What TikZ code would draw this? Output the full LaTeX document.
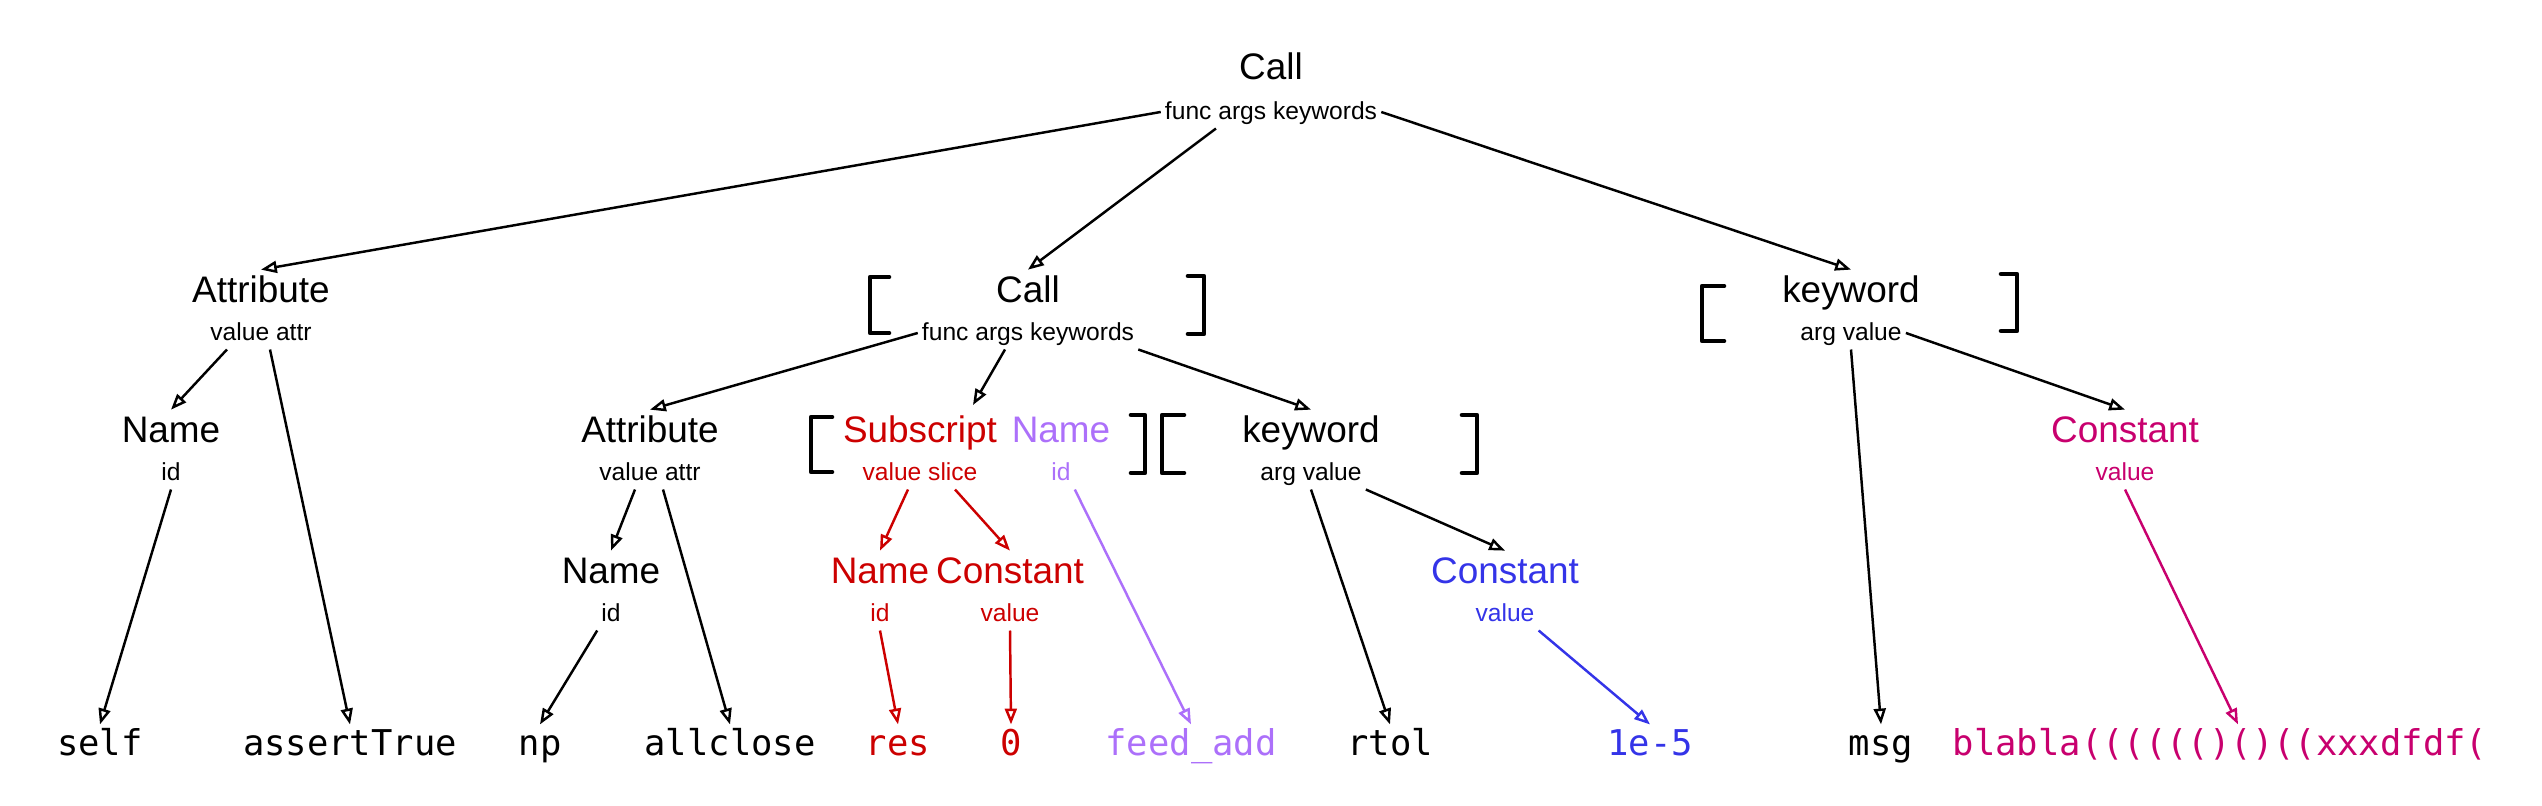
\documentclass[tikz,border=0pt]{standalone}
\usepackage{fontspec}
\setmainfont{Liberation Sans}
\newfontfamily\codefont{DejaVu Sans Mono}
\usepackage{tikz}
\usetikzlibrary{arrows.meta,positioning}
\definecolor{astred}{RGB}{204,0,0}
\definecolor{astpurple}{RGB}{172,112,250}
\definecolor{astblue}{RGB}{52,52,232}
\definecolor{astpink}{RGB}{200,0,110}

\begin{document}
\begin{tikzpicture}[
    x=0.01cm, y=-0.01cm,
    ttl/.style={anchor=base, inner sep=1pt, font=\fontsize{10.5}{12}\selectfont, text height=8pt, text depth=2.5pt},
    fld/.style={anchor=base, inner sep=1pt, font=\fontsize{7}{8}\selectfont, text height=5.5pt, text depth=1.5pt},
    leaf/.style={anchor=base, inner sep=1pt, font=\codefont\fontsize{10.1}{12}\selectfont, text height=7.5pt, text depth=2pt},
    edge/.style={-{Triangle[open, length=4.5pt, width=3.4pt]}, line width=0.7pt},
    brk/.style={line width=1.3pt, line cap=round, line join=round}
]
    \useasboundingbox (0,0) rectangle (2542,806);

    % level 0
    \node[ttl] (callA) at (1271,80) {Call};
    \node[fld] (callAs) at (1271,119) {func args keywords};

    % level 1
    \node[ttl] (attrA) at (261,302) {Attribute};
    \node[fld] (attrAs) at (261,340) {value attr};
    \node[ttl] (callB) at (1028,302) {Call};
    \node[fld] (callBs) at (1028,340) {func args keywords};
    \node[ttl] (kwA) at (1851,302) {keyword};
    \node[fld] (kwAs) at (1851,340) {arg value};

    % level 2
    \node[ttl] (nameA) at (171,442) {Name};
    \node[fld] (nameAs) at (171,480) {id};
    \node[ttl] (attrB) at (650,442) {Attribute};
    \node[fld] (attrBs) at (650,480) {value attr};
    \node[ttl, astred] (subA) at (920,442) {Subscript};
    \node[fld, astred] (subAs) at (920,480) {value slice};
    \node[ttl, astpurple] (nameB) at (1061,442) {Name};
    \node[fld, astpurple] (nameBs) at (1061,480) {id};
    \node[ttl] (kwB) at (1311,442) {keyword};
    \node[fld] (kwBs) at (1311,480) {arg value};
    \node[ttl, astpink] (constA) at (2125,442) {Constant};
    \node[fld, astpink] (constAs) at (2125,480) {value};
    \coordinate (lstA) at (973,405);

    % level 3
    \node[ttl] (nameC) at (611,583) {Name};
    \node[fld] (nameCs) at (611,621) {id};
    \node[ttl, astred] (nameD) at (880,583) {Name};
    \node[fld, astred] (nameDs) at (880,621) {id};
    \node[ttl, astred] (constB) at (1010,583) {Constant};
    \node[fld, astred] (constBs) at (1010,621) {value};
    \node[ttl, astblue] (constC) at (1505,583) {Constant};
    \node[fld, astblue] (constCs) at (1505,621) {value};

    % leaves
    \node[leaf] (self) at (100,755) {self};
    \node[leaf] (assert) at (350,755) {assertTrue};
    \node[leaf] (np) at (540,755) {np};
    \node[leaf] (allclose) at (730,755) {allclose};
    \node[leaf, astred] (res) at (898,755) {res};
    \node[leaf, astred] (zero) at (1011,755) {0};
    \node[leaf, astpurple] (feed) at (1191,755) {feed\_add};
    \node[leaf] (rtol) at (1390,755) {rtol};
    \node[leaf, astblue] (eps) at (1650,755) {1e-5};
    \node[leaf] (msg) at (1881,755) {msg};
    \node[leaf, astpink] (blabla) at (2220,755) {blabla(((((()()((xxxdfdf(};

    % list brackets
    \draw[brk] (889,277) -- (870,277) -- (870,333) -- (889,333);
    \draw[brk] (1188,276) -- (1204,276) -- (1204,334) -- (1188,334);
    \draw[brk] (1724,286) -- (1702,286) -- (1702,341) -- (1724,341);
    \draw[brk] (2001,274) -- (2017,274) -- (2017,331) -- (2001,331);
    \draw[brk] (832,417) -- (811,417) -- (811,472) -- (832,472);
    \draw[brk] (1131,415) -- (1145,415) -- (1145,473) -- (1131,473);
    \draw[brk] (1184,415) -- (1162,415) -- (1162,473) -- (1184,473);
    \draw[brk] (1462,415) -- (1477,415) -- (1477,473) -- (1462,473);

    % edges
    \draw[edge] (callAs.west) -- (attrA.north);
    \draw[edge] ([xshift=-5.5mm]callAs.south) -- (callB.north);
    \draw[edge] (callAs.east) -- (kwA.north);
    \draw[edge] ([xshift=-3.4mm]attrAs.south) -- (nameA.north);
    \draw[edge] ([xshift=0.9mm]attrAs.south) -- (assert.north);
    \draw[edge] (callBs.west) -- (attrB.north);
    \draw[edge] ([xshift=-2.3mm]callBs.south) -- (lstA);
    \draw[edge] (callBs.south east) -- (kwB.north);
    \draw[edge] (kwAs.south) -- (msg.north);
    \draw[edge] (kwAs.east) -- (constA.north);
    \draw[edge] (nameAs.south) -- (self.north);
    \draw[edge] ([xshift=-1.5mm]attrBs.south) -- (nameC.north);
    \draw[edge] ([xshift=1.3mm]attrBs.south) -- (allclose.north);
    \draw[edge, astred] ([xshift=-1.2mm]subAs.south) -- (nameD.north);
    \draw[edge, astred] ([xshift=3.5mm]subAs.south) -- (constB.north);
    \draw[edge, astpurple] (nameBs.south east) -- (feed.north);
    \draw[edge] (kwBs.south) -- (rtol.north);
    \draw[edge] (kwBs.south east) -- (constC.north);
    \draw[edge] (nameCs.south west) -- (np.north);
    \draw[edge, astred] (nameDs.south) -- (res.north);
    \draw[edge, astred] (constBs.south) -- (zero.north);
    \draw[edge, astblue] (constCs.south east) -- (eps.north);
    \draw[edge, astpink] (constAs.south) -- ([xshift=1.8mm]blabla.north);
\end{tikzpicture}
\end{document}
